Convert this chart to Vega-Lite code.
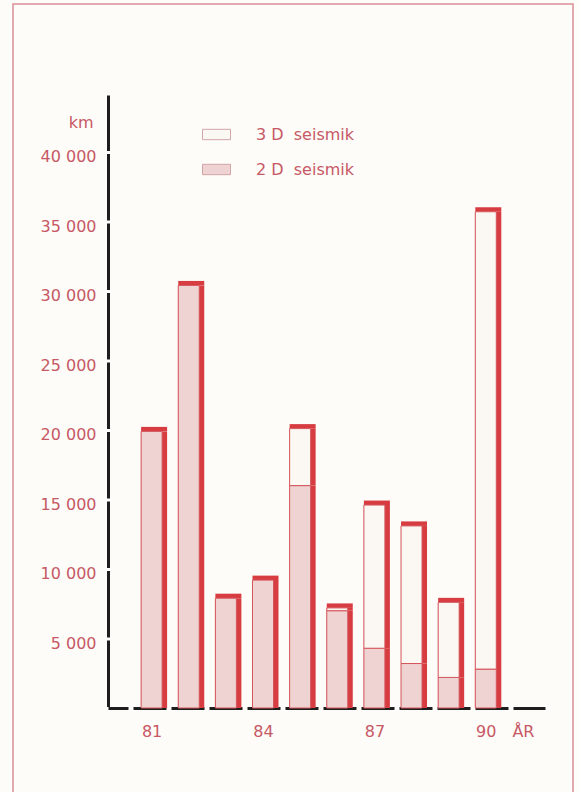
{
  "$schema": "https://vega.github.io/schema/vega-lite/v6.json",
  "width": 560,
  "height": 791,
  "autosize": {"type": "none"},
  "padding": {"left": 13, "top": 4, "right": 5, "bottom": -3},
  "background": "#fdfcf8",
  "config": {
    "font": "DejaVu Sans",
    "view": {"stroke": "#d98f96", "strokeWidth": 1.5, "fill": "#fdfcf8"},
    "axisY": {
      "titleAngle": 0,
      "titleX": -15,
      "titleY": 123,
      "titleAlign": "right",
      "titleBaseline": "alphabetic",
      "titleFontSize": 16,
      "titleFontWeight": "normal",
      "titleColor": "#c75865",
      "offset": -95,
      "labelExpr": "replace(format(datum.value, ','), ',', ' ')",
      "ticks": false,
      "grid": false,
      "domainColor": "#1e1e1e",
      "domainWidth": 3,
      "domainDash": [66.5, 3],
      "domainDashOffset": 68,
      "labelPadding": 12,
      "labelBaseline": "middle",
      "labelOffset": 5,
      "labelFontSize": 16,
      "labelColor": "#c75865"
    }
  },
  "data": {
    "values": [
      {"year": 81, "type": "2 D  seismik", "km": 19900},
      {"year": 82, "type": "2 D  seismik", "km": 30400},
      {"year": 83, "type": "2 D  seismik", "km": 7900},
      {"year": 84, "type": "2 D  seismik", "km": 9200},
      {"year": 85, "type": "2 D  seismik", "km": 16000},
      {"year": 85, "type": "3 D  seismik", "km": 4100},
      {"year": 86, "type": "2 D  seismik", "km": 7000},
      {"year": 86, "type": "3 D  seismik", "km": 200},
      {"year": 87, "type": "2 D  seismik", "km": 4300},
      {"year": 87, "type": "3 D  seismik", "km": 10300},
      {"year": 88, "type": "2 D  seismik", "km": 3200},
      {"year": 88, "type": "3 D  seismik", "km": 9900},
      {"year": 89, "type": "2 D  seismik", "km": 2200},
      {"year": 89, "type": "3 D  seismik", "km": 5400},
      {"year": 90, "type": "2 D  seismik", "km": 2800},
      {"year": 90, "type": "3 D  seismik", "km": 32900}
    ]
  },
  "encoding": {
    "x": {
      "field": "year",
      "type": "quantitative",
      "scale": {"domain": [79.96, 91.46], "range": [95, 532], "zero": false, "nice": false},
      "axis": {
        "title": null,
        "offset": -87,
        "values": [81, 84, 87, 90, 91],
        "labelExpr": "datum.value == 91 ? 'ÅR' : datum.label",
        "ticks": false,
        "grid": false,
        "domainColor": "#1e1e1e",
        "domainWidth": 3,
        "domainDash": [33, 5],
        "domainDashOffset": 13,
        "labelPadding": 15,
        "labelFontSize": 16,
        "labelColor": "#c75865",
        "labelFlush": false,
        "labelOverlap": false
      }
    },
    "y": {
      "field": "km",
      "type": "quantitative",
      "stack": "zero",
      "scale": {"domain": [0, 44100], "range": [704, 91], "nice": false},
      "axis": {"title": "km", "values": [5000, 10000, 15000, 20000, 25000, 30000, 35000, 40000]}
    }
  },
  "layer": [
    {
      "mark": {"type": "bar", "width": 26, "xOffset": 2.5, "color": "#d63c40"},
      "encoding": {
        "detail": {"field": "type"},
        "order": {"field": "type", "sort": "ascending"}
      }
    },
    {
      "mark": {"type": "tick", "orient": "horizontal", "thickness": 4.5, "size": 26, "xOffset": 2.5, "yOffset": -2.25, "color": "#d63c40", "opacity": 1},
      "encoding": {
        "y": {
          "aggregate": "sum",
          "field": "km",
          "type": "quantitative",
          "axis": {"title": "km", "values": [5000, 10000, 15000, 20000, 25000, 30000, 35000, 40000]}
        }
      }
    },
    {
      "mark": {"type": "bar", "width": 21, "stroke": "#d4565c", "strokeWidth": 1},
      "encoding": {
        "order": {"field": "type", "sort": "ascending"},
        "color": {
          "field": "type",
          "type": "nominal",
          "scale": {"domain": ["3 D  seismik", "2 D  seismik"], "range": ["#fbf8f3", "#efd3d3"]},
          "legend": {
            "title": null,
            "orient": "none",
            "legendX": 189,
            "legendY": 116,
            "padding": 0,
            "symbolType": "M-1,-0.37H1V0.37H-1Z",
            "symbolSize": 784,
            "symbolStrokeColor": "#d2a5a8",
            "symbolStrokeWidth": 1,
            "symbolOpacity": 1,
            "labelOffset": 25,
            "rowPadding": 12,
            "labelFontSize": 16,
            "labelExpr": "replace(replace(datum.label, '  ', '\u00a0\u00a0'), ' ', '\u00a0')",
            "labelColor": "#c75865"
          }
        }
      }
    }
  ]
}
